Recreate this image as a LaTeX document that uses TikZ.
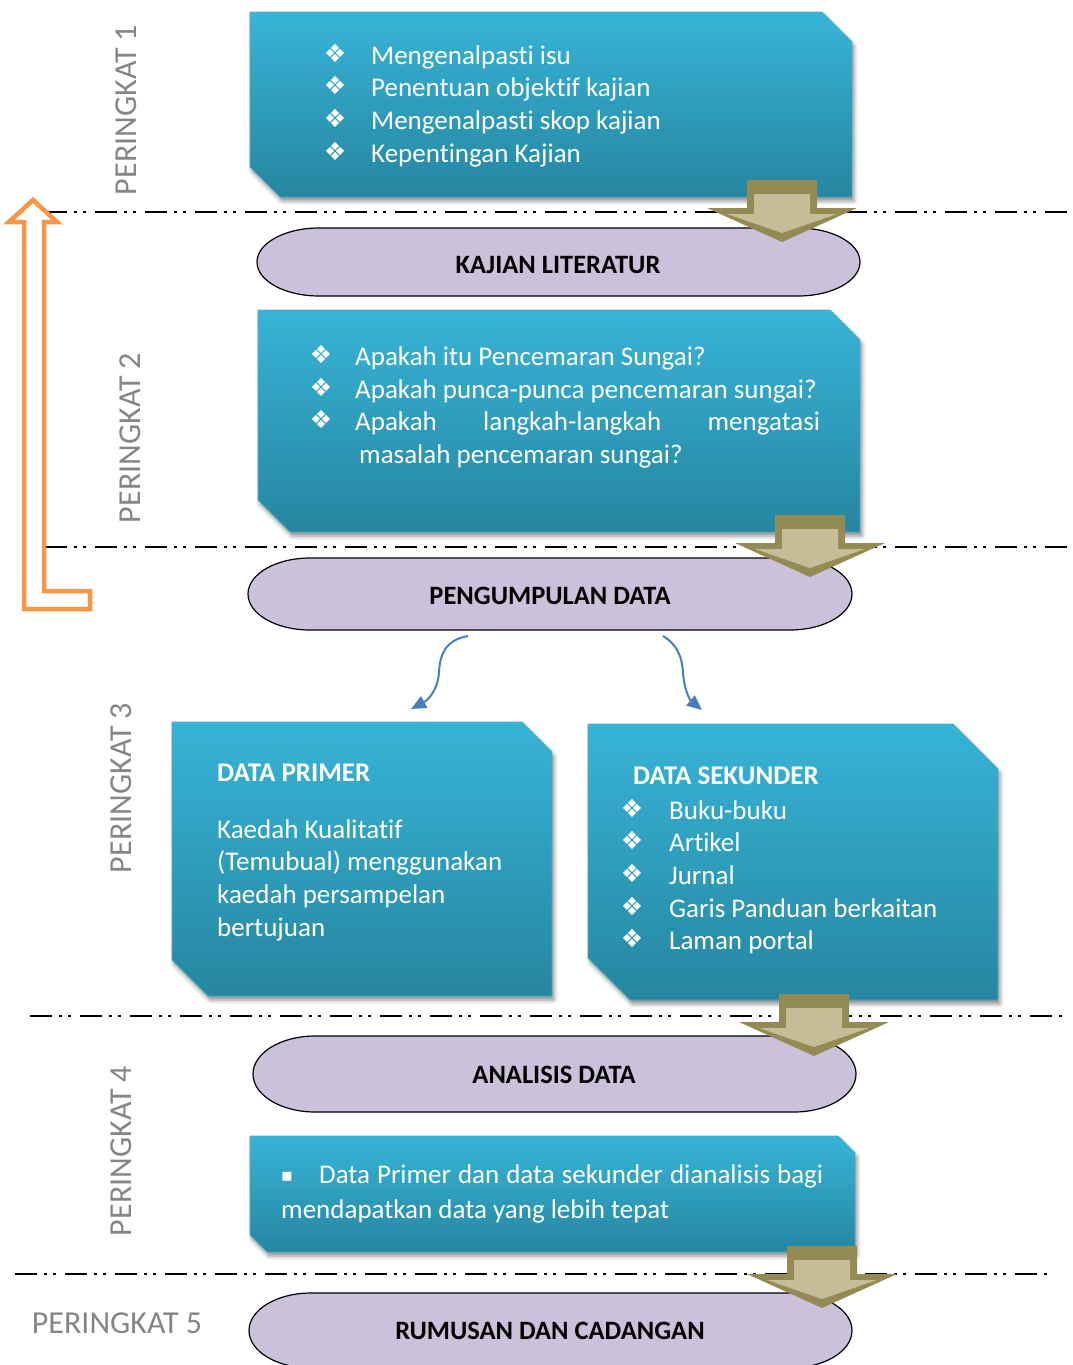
\documentclass[tikz,border=0pt]{standalone}
\usepackage{fontspec}
\setmainfont{Carlito}[Ligatures=NoCommon]
\newfontfamily\dv{DejaVu Sans}
\usetikzlibrary{arrows.meta,shadows.blur}
\definecolor{boxtop}{HTML}{37B4D8}
\definecolor{boxbot}{HTML}{2686A0}
\definecolor{boxedge}{HTML}{4BACC6}
\definecolor{pillfill}{HTML}{CCC1DA}
\definecolor{oliveD}{HTML}{948A54}
\definecolor{oliveL}{HTML}{C4BD97}
\definecolor{orangeA}{HTML}{F79646}
\definecolor{blueA}{HTML}{4A7EBB}
\definecolor{lvlgray}{HTML}{858585}
\newcommand\snipbox[6]{\path[boxstyle] (#1,#2) -- ({#3-#5},#2) -- (#3,{#2+#5}) -- (#3,#4) -- ({#1+#6},#4) -- (#1,{#4-#6}) -- cycle;}
\newcommand\pillpath[4]{\path[pillstyle] (#1,{(#2+#4)/2}) arc[start angle=180,end angle=270,x radius=62,y radius={(#4-#2)/2}] -- ({#3-62},#2) arc[start angle=270,end angle=450,x radius=62,y radius={(#4-#2)/2}] -- ({#1+62},#4) arc[start angle=90,end angle=180,x radius=62,y radius={(#4-#2)/2}] -- cycle;}
\newcommand\blockarrow[2]{\begin{scope}[shift={(#1,#2)}]
\fill[oliveD] (-35,0) -- (35,0) -- (35,28) -- (75,28) -- (0,62) -- (-75,28) -- (-35,28) -- cycle;
\fill[oliveL] (-28,14) -- (28,14) -- (28,34) -- (55,34) -- (0,53) -- (-55,34) -- (-28,34) -- cycle;
\end{scope}}
\begin{document}
\begin{tikzpicture}[x=1pt,y=-1pt,
  boxstyle/.style={top color=boxtop,bottom color=boxbot,draw=boxedge,line width=0.8,
     blur shadow={shadow xshift=2pt,shadow yshift=-4pt,shadow blur radius=4pt,shadow opacity=45}},
  pillstyle/.style={fill=pillfill,draw=black,line width=1.2},
  dashline/.style={line width=2.8,dash pattern=on 22pt off 7pt on 3pt off 6pt on 3pt off 9pt},
  body/.style={font=\fontsize{27}{32}\selectfont,text=white,anchor=base west,inner sep=0},
  bodyb/.style={font=\bfseries\fontsize{27}{32}\selectfont,text=white,anchor=base west,inner sep=0},
  bul/.style={font=\dv\fontsize{25}{28}\selectfont,text=white,anchor=base,inner sep=0},
  pilltext/.style={font=\bfseries\fontsize{26.5}{30}\selectfont,anchor=center,inner sep=0},
  lvl/.style={font=\fontsize{32}{36}\selectfont,text=lvlgray,inner sep=0},
  curv/.style={blueA,line width=2,-{Triangle[length=15pt,width=13pt]}}]
\useasboundingbox (0,0) rectangle (1072,1365);

% dashed separators
\draw[dashline] (45,212) -- (1072,212);
\draw[dashline] (45,547) -- (1072,547);
\draw[dashline] (30,1016) -- (1065,1016);
\draw[dashline] (15,1274) -- (1050,1274);

% level labels
\node[lvl,rotate=90] (p1) at (126,110) {PERINGKAT 1};
\node[lvl,rotate=90] (p2) at (130,438) {PERINGKAT 2};
\node[lvl,rotate=90] (p3) at (121,788) {PERINGKAT 3};
\node[lvl,rotate=90] (p4) at (121,1151) {PERINGKAT 4};
\node[lvl] (p5) at (117,1323) {PERINGKAT 5};

% orange feedback arrow
\draw[orangeA,line width=4.5,fill=white,line join=miter] (33,200) -- (57,222) -- (44,222) -- (44,591) -- (90,591) -- (90,609) -- (24,609) -- (24,222) -- (9,222) -- cycle;

% pills
\pillpath{257}{228}{860}{296}
\node[pilltext] (kl) at (558,265) {KAJIAN LITERATUR};
\pillpath{248}{558}{852}{630}
\node[pilltext] (pd) at (550,596) {PENGUMPULAN DATA};
\pillpath{253}{1036}{856}{1112}
\node[pilltext] (ad) at (554,1075) {ANALISIS DATA};
\pillpath{249}{1293}{852}{1368}
\node[pilltext] (rc) at (550,1331) {RUMUSAN DAN CADANGAN};

% box 1
\snipbox{250}{12}{852}{197}{30}{30}
\foreach \yy/\tt [count=\i] in {64/Mengenalpasti isu,96/Penentuan objektif kajian,129/Mengenalpasti skop kajian,162/Kepentingan Kajian}{
  \node[bul] (b1d\i) at (335,\yy-2) {❖};
  \node[body] (b1t\i) at (371,\yy) {\tt};
}
% box 2
\snipbox{258}{310}{860}{532}{30}{32}
\node[bul] (b2d1) at (321,363) {❖};
\node[body] (b2t1) at (355,365) {Apakah itu Pencemaran Sungai?};
\node[bul] (b2d2) at (321,396) {❖};
\node[body] (b2t2) at (355,398) {Apakah punca-punca pencemaran sungai?};
\node[bul] (b2d3) at (321,428) {❖};
\node[body] (b2t3) at (355,430) {\hbox to 465pt{Apakah\hfill langkah-langkah\hfill mengatasi}};
\node[body] (b2t4) at (359,463) {masalah pencemaran sungai?};

% box 3
\snipbox{172}{722}{552}{996}{30}{36}
\node[bodyb] (b3h) at (217,781) {DATA PRIMER};
\node[body] (b3a) at (217,838) {Kaedah Kualitatif};
\node[body] (b3b) at (217,870) {(Temubual) menggunakan};
\node[body] (b3c) at (217,903) {kaedah persampelan};
\node[body] (b3d) at (217,936) {bertujuan};

% box 4
\snipbox{588}{724}{998}{1000}{45}{42}
\node[bodyb] (b4h) at (633,784) {DATA SEKUNDER};
\foreach \yy/\tt [count=\i] in {819/Buku-buku,851/Artikel,884/Jurnal,917/Garis Panduan berkaitan,949/Laman portal}{
  \node[bul] (b4d\i) at (632,\yy-2) {❖};
  \node[body] (b4t\i) at (669,\yy) {\tt};
}

% box 5
\snipbox{250}{1136}{855}{1252}{17}{17}
\node[bul,font=\dv\fontsize{18}{20}\selectfont] (b5d) at (287,1181) {▪};
\node[body] (b5a) at (319,1183) {\hbox to 504pt{Data Primer dan data sekunder dianalisis bagi}};
\node[body] (b5b) at (281,1218) {mendapatkan data yang lebih tepat};

% block arrows
\blockarrow{782}{180}
\blockarrow{810}{515}
\blockarrow{814}{994}
\blockarrow{822}{1246}

% curved arrows
\coordinate (la) at (468,636);
\coordinate (lb) at (411,709);
\coordinate (ra) at (663,636);
\coordinate (rb) at (702,710);
\draw[curv] (la) .. controls (445,640) and (440,655) .. (439,672) .. controls (438,690) and (428,700) .. (lb);
\draw[curv] (ra) .. controls (678,645) and (682,658) .. (683,672) .. controls (684,690) and (690,700) .. (rb);
\end{tikzpicture}
\end{document}
